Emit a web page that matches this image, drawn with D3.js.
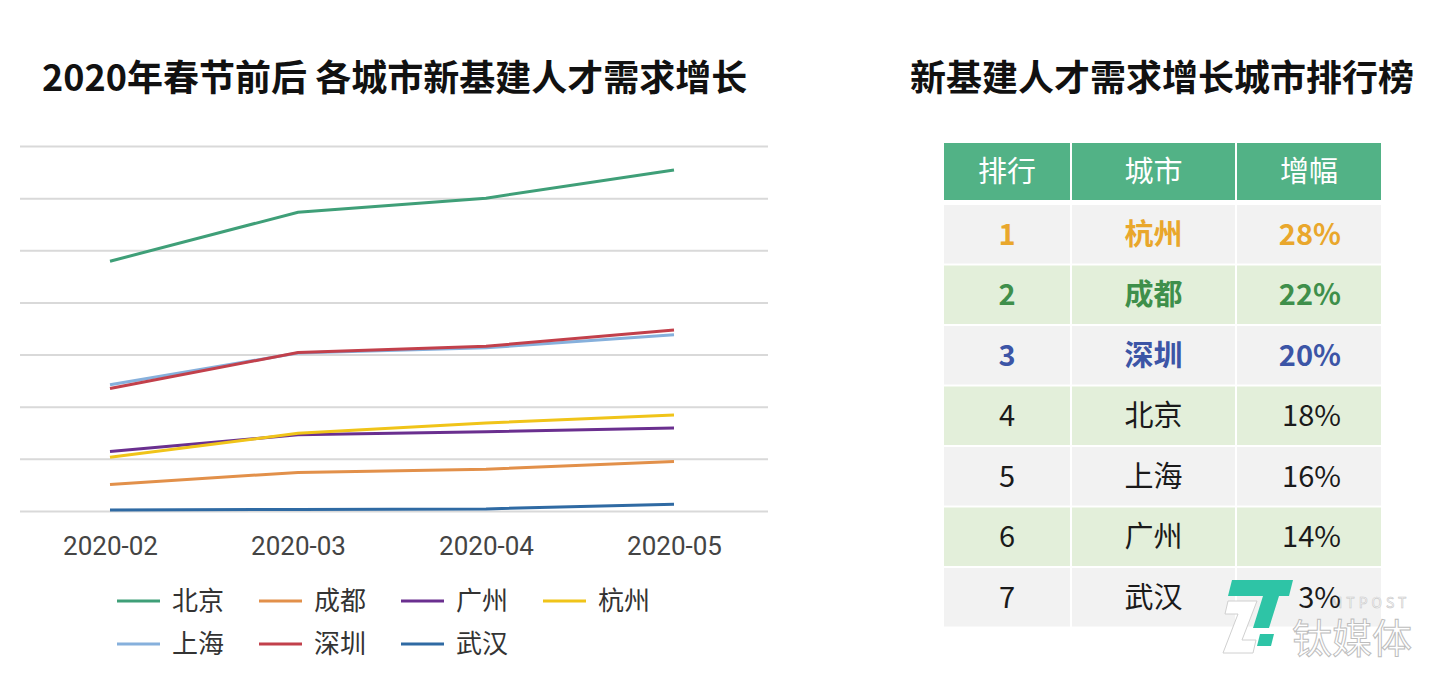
<!DOCTYPE html>
<html>
<head>
<meta charset="utf-8">
<script src="https://cdn.jsdelivr.net/npm/d3@7"></script>
<style>
  body { margin: 0; background: #fff; }
  svg { display: block; font-family: "Noto Sans CJK SC", "Noto Sans", sans-serif; }
</style>
</head>
<body>
<svg width="1440" height="684"></svg>
<script>
// chart data
const months = ["2020-02", "2020-03", "2020-04", "2020-05"];
const cities = ["北京", "成都", "广州", "杭州", "上海", "深圳", "武汉"];
const colors = ["#3f9f78", "#e2904a", "#6a2f8f", "#f0c419", "#86b0dc", "#c2404b", "#2f6aa3"];
const beijing = [47.9, 57.3, 60.0, 65.4];
const chengdu = [5.1, 7.4, 8.0, 9.5];
const guangzhou = [11.4, 14.6, 15.2, 15.9];
const hangzhou = [10.3, 14.9, 16.9, 18.4];
const shanghai = [24.2, 30.3, 31.3, 33.8];
const shenzhen = [23.5, 30.4, 31.6, 34.7];
const wuhan = [0.2, 0.3, 0.4, 1.3];
const yTicks = [0, 10, 20, 30, 40, 50, 60, 70];

// ranking table data
const tableHead = ["排行", "城市", "增幅"];
const ranks = ["1", "2", "3", "4", "5", "6", "7"];
const rankCities = ["杭州", "成都", "深圳", "北京", "上海", "广州", "武汉"];
const growth = ["28%", "22%", "20%", "18%", "16%", "14%", "3%"];

const series = [beijing, chengdu, guangzhou, hangzhou, shanghai, shenzhen, wuhan]
  .map((values, i) => ({ city: cities[i], color: colors[i], values }));

const svg = d3.select("svg");

// titles
svg.append("text")
  .attr("x", 42).attr("y", 91)
  .attr("font-size", 36).attr("font-weight", 700).attr("fill", "#111")
  .text("2020年春节前后 各城市新基建人才需求增长");

svg.append("text")
  .attr("x", 910).attr("y", 91)
  .attr("font-size", 36).attr("font-weight", 700).attr("fill", "#111")
  .text("新基建人才需求增长城市排行榜");

// line chart
const x = d3.scalePoint().domain(months).range([110, 674]);
const y = d3.scaleLinear().domain([0, 70]).range([511, 146]);

const grid = svg.append("g")
  .attr("transform", "translate(20,0)")
  .call(d3.axisLeft(y).tickValues(yTicks).tickSize(-748).tickFormat(""));
grid.select(".domain").remove();
grid.selectAll(".tick line").attr("stroke", "#d9d9d9").attr("stroke-width", 2);

const xAxis = svg.append("g")
  .attr("transform", "translate(0,511)")
  .call(d3.axisBottom(x).tickSize(0).tickPadding(26));
xAxis.select(".domain").remove();
xAxis.selectAll("text")
  .attr("font-size", 26).attr("fill", "#444")
  .attr("font-family", "'Liberation Sans Narrow', 'Roboto', sans-serif");

const line = d3.line()
  .x((d, i) => x(months[i]))
  .y(d => y(d));

svg.append("g").selectAll("path")
  .data(series)
  .join("path")
  .attr("d", d => line(d.values))
  .attr("fill", "none")
  .attr("stroke", d => d.color)
  .attr("stroke-width", 3);

// legend
const legend = svg.append("g").selectAll("g")
  .data(series)
  .join("g")
  .attr("transform", (d, i) => `translate(${117 + (i % 4) * 142},${601 + Math.floor(i / 4) * 43})`);

legend.append("line")
  .attr("x1", 0).attr("x2", 43)
  .attr("stroke", d => d.color).attr("stroke-width", 3);

legend.append("text")
  .attr("x", 55).attr("dy", "0.36em")
  .attr("font-size", 26).attr("fill", "#333")
  .text(d => d.city);

// ranking table
const colX = [944, 1072, 1237];
const colW = [126, 163, 144];
const headY = 143, headH = 57;
const rowY = 205, rowH = 60.5;

const head = svg.append("g");
head.selectAll("rect")
  .data(tableHead)
  .join("rect")
  .attr("x", (d, i) => colX[i]).attr("y", headY)
  .attr("width", (d, i) => colW[i]).attr("height", headH)
  .attr("fill", "#52b286");
head.selectAll("text")
  .data(tableHead)
  .join("text")
  .attr("x", (d, i) => colX[i] + colW[i] / 2).attr("y", headY + headH / 2)
  .attr("dy", "0.36em").attr("text-anchor", "middle")
  .attr("font-size", 29).attr("fill", "#fff")
  .text(d => d);

// watermark (drawn under the table text, as in the reference)
const wm = svg.append("g");

const rowColor = ["#e9a72c", "#3f8f4b", "#3c55a6"];
const rows = svg.insert("g", () => wm.node()).selectAll("g")
  .data(ranks.map((r, i) => [r, rankCities[i], growth[i]]))
  .join("g")
  .attr("transform", (d, i) => `translate(0,${rowY + i * rowH})`);

rows.selectAll("rect")
  .data((d, i) => d.map(v => i))
  .join("rect")
  .attr("x", (d, j) => colX[j]).attr("y", 0)
  .attr("width", (d, j) => colW[j]).attr("height", rowH - 2)
  .attr("fill", d => d % 2 === 0 ? "#f2f2f2" : "#e3efda");

const cellText = svg.append("g").selectAll("text")
  .data(ranks.flatMap((r, i) => [r, rankCities[i], growth[i]].map((v, j) => ({ v, i, j }))))
  .join("text")
  .attr("x", d => d.j === 2 ? 1341 : colX[d.j] + colW[d.j] / 2)
  .attr("y", d => rowY + d.i * rowH + rowH / 2 - 1)
  .attr("dy", "0.36em")
  .attr("text-anchor", d => d.j === 2 ? "end" : "middle")
  .attr("font-size", 29)
  .attr("font-weight", d => d.i < 3 ? 700 : 400)
  .attr("fill", d => d.i < 3 ? rowColor[d.i] : "#1a1a1a")
  .text(d => d.v);

wm.append("path")
  .attr("d", "M1232,580 H1293 L1289,596 H1279 L1269,628 H1253 L1263,596 H1228 Z")
  .attr("fill", "#2ec4a6");
wm.append("path")
  .attr("d", "M1260,634 H1274 L1271,646 H1257 Z")
  .attr("fill", "#2ec4a6");
wm.append("path")
  .attr("d", "M1228,601 H1257 L1242,640 H1256 L1253,653 H1223 L1238,614 H1225 Z")
  .attr("fill", "#fff").attr("stroke", "#d0d0d0").attr("stroke-width", 1);
wm.append("text")
  .attr("x", 1331).attr("y", 608)
  .attr("font-size", 14).attr("letter-spacing", 4)
  .attr("fill", "#fff").attr("stroke", "#c8c8c8").attr("stroke-width", 0.6)
  .text("MTPOST");
wm.append("text")
  .attr("x", 1292).attr("y", 653)
  .attr("font-size", 40)
  .attr("fill", "#fff").attr("stroke", "#bdbdbd").attr("stroke-width", 1)
  .text("钛媒体");
</script>
</body>
</html>
